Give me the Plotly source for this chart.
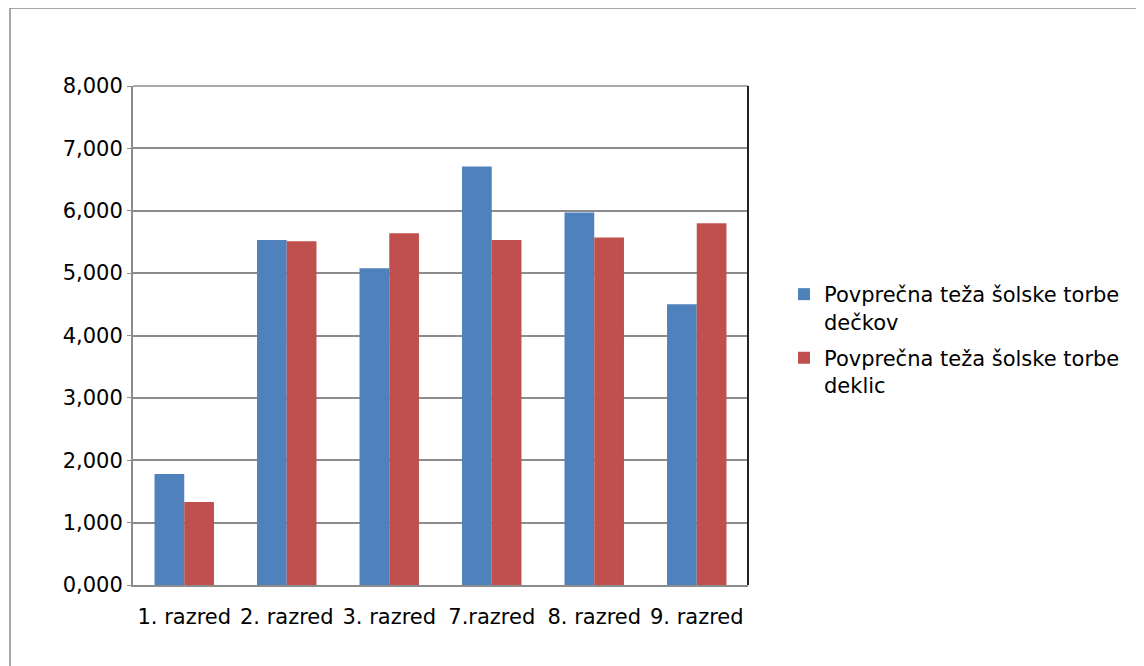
import plotly.graph_objects as go

categories = ["1. razred", "2. razred", "3. razred", "7.razred", "8. razred", "9. razred"]
boys = [1.78, 5.53, 5.08, 6.71, 5.97, 4.50]
girls = [1.33, 5.51, 5.64, 5.53, 5.57, 5.80]
name_boys = "Povprečna teža šolske torbe<br>dečkov"
name_girls = "Povprečna teža šolske torbe<br>deklic"
y_ticks = [0, 1, 2, 3, 4, 5, 6, 7, 8]

FONT = "DejaVu Sans"
FS = 21

fig = go.Figure()
fig.add_trace(go.Bar(x=categories, y=boys, name=name_boys, legendgroup="a",
                     marker=dict(color="#4F81BD", line=dict(width=0))))
fig.add_trace(go.Bar(x=categories, y=girls, name=name_girls, legendgroup="b",
                     marker=dict(color="#C0504D", line=dict(width=0))))

# page coordinates (body has an 8px offset)
OFF = 8
L, R, T, B = 133, 748, 86, 585
W, H = 1144, 666
pw, ph = R - L, B - T

def px(x):
    return (x - L) / pw

def py(y):
    return (B - y) / ph

fig.update_layout(
    width=W, height=H,
    margin=dict(l=L - OFF, r=W + OFF - R, t=T - OFF, b=H + OFF - B, pad=0),
    paper_bgcolor="white", plot_bgcolor="white",
    separators=",.",
    barmode="group", bargap=0.42, bargroupgap=0,
    font=dict(family=FONT, size=FS, color="#000000"),
    showlegend=True,
    legend=dict(x=px(784), y=py(274), xanchor="left", yanchor="top", valign="top",
                font=dict(family=FONT, size=FS, color="#000000"),
                itemwidth=30, tracegroupgap=6, bgcolor="rgba(0,0,0,0)"),
    xaxis=dict(showline=True, linecolor="#8c8c8c", linewidth=2, ticks="",
               ticklabelstandoff=12,
               tickfont=dict(family=FONT, size=FS), showgrid=False, zeroline=False),
    yaxis=dict(range=[0, 8], tickvals=y_ticks, tickformat=".3f", showline=True,
               linecolor="#8c8c8c", linewidth=2, ticks="outside", ticklen=4,
               tickcolor="#8c8c8c", showgrid=True, gridcolor="#8c8c8c", gridwidth=2,
               zeroline=False, tickfont=dict(family=FONT, size=FS)),
    shapes=[
        dict(type="rect", xref="paper", yref="paper", x0=px(10), x1=px(1170),
             y0=py(700), y1=py(8), line=dict(color="#8c8c8c", width=1.5), layer="below"),
        dict(type="line", xref="paper", yref="paper", x0=0, x1=1, y0=1, y1=1,
             line=dict(color="#8c8c8c", width=1.5)),
        dict(type="line", xref="paper", yref="paper", x0=1, x1=1, y0=0, y1=1,
             line=dict(color="#222222", width=2)),
    ],
)

fig.write_html("out.html")
